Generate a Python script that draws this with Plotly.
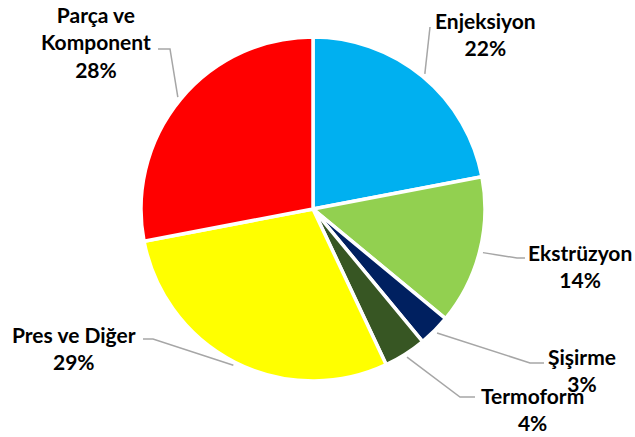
import math
import plotly.graph_objects as go

# ---- data ----
categories = ["Enjeksiyon", "Ekstrüzyon", "Şişirme", "Termoform", "Pres ve Diğer", "Parça ve Komponent"]
label_texts = ["Enjeksiyon", "Ekstrüzyon", "Şişirme", "Termoform", "Pres ve Diğer", "Parça ve<br>Komponent"]
values = [22, 14, 3, 4, 29, 28]
colors = ["#00B0F0", "#92D050", "#002060", "#375623", "#FFFF00", "#FF0000"]

# ---- layout geometry (pixels) ----
W, H = 635, 437
CX, CY, R = 313, 209, 172

# label block centers and leader elbow points (pixels)
label_pos = [(485, 34), (580, 266), (582, 370), (532, 408.5), (74, 347.5), (96, 42.5)]
leader_pts = [
    [(430, 27)],
    [(517, 258), (525, 258)],
    [(530, 363), (544, 363)],
    [(460, 397), (475, 397)],
    [(153, 339), (143, 339)],
    [(170, 49), (158, 49)],
]

def px(x):
    return x / W

def py(y):
    return 1 - y / H

fig = go.Figure(go.Pie(
    labels=categories,
    values=values,
    sort=False,
    direction="clockwise",
    rotation=0,
    marker=dict(colors=colors, line=dict(color="white", width=3.5)),
    textinfo="none",
    hoverinfo="label+percent",
    domain=dict(x=[px(CX - R), px(CX + R)], y=[py(CY + R), py(CY - R)]),
    showlegend=False,
))

total = sum(values)
cum = 0
shapes = []
annotations = []
for i, v in enumerate(values):
    mid = (cum + v / 2) / total * 2 * math.pi
    cum += v
    sx = CX + R * 1.02 * math.sin(mid)
    sy = CY - R * 1.02 * math.cos(mid)
    pts = [(sx, sy)] + leader_pts[i]
    path = "M {} {}".format(px(pts[0][0]), py(pts[0][1]))
    for (x, y) in pts[1:]:
        path += " L {} {}".format(px(x), py(y))
    shapes.append(dict(type="path", path=path, xref="paper", yref="paper",
                       line=dict(color="#A6A6A6", width=1.5)))
    pct = round(v / total * 100)
    lx, ly = label_pos[i]
    annotations.append(dict(
        x=px(lx), y=py(ly), xref="paper", yref="paper",
        text="<b>{}<br>{}%</b>".format(label_texts[i], pct),
        showarrow=False, xanchor="center", yanchor="middle", align="center",
        font=dict(family="Lato", size=21, color="black"),
    ))

fig.update_layout(
    width=W, height=H,
    margin=dict(l=0, r=0, t=0, b=0),
    paper_bgcolor="white",
    plot_bgcolor="white",
    shapes=shapes,
    annotations=annotations,
)

fig.write_html("out.html", config={"displayModeBar": False},
               post_script="document.body.style.margin='0';document.body.style.overflow='hidden';")
